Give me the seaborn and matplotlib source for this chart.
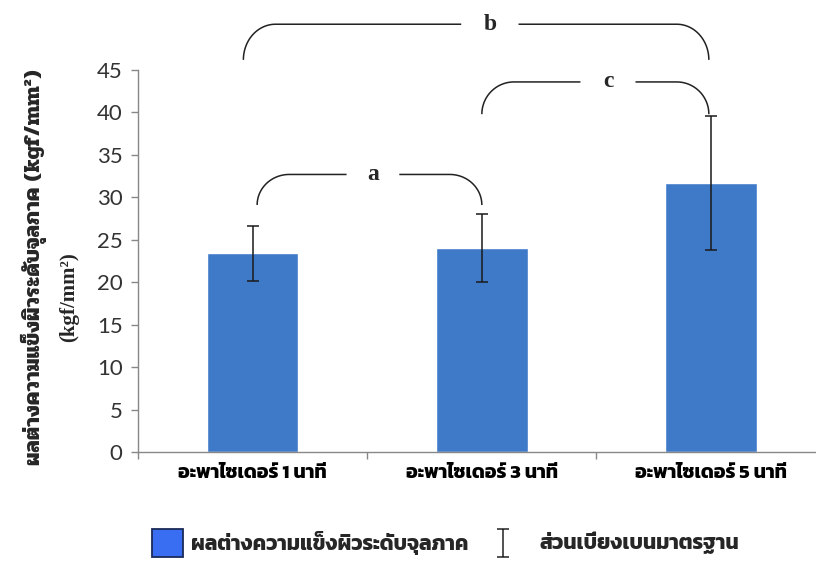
import matplotlib
matplotlib.use('Agg')
import matplotlib.pyplot as plt
import seaborn as sns
import numpy as np
import pandas as pd
from matplotlib.patches import Rectangle
from matplotlib.path import Path

# ---- data ----
categories = ['อะพาไซเดอร์ 1 นาที', 'อะพาไซเดอร์ 3 นาที', 'อะพาไซเดอร์ 5 นาที']
means = [23.4, 24.0, 31.7]
sds = [3.2, 4.0, 7.9]
yticks = [0, 5, 10, 15, 20, 25, 30, 35, 40, 45]
ylabel_line1 = 'ผลต่างความแข็งผิวระดับจุลภาค (kgf/mm²)'
ylabel_line2 = '(kgf/mm²)'
legend_bar = 'ผลต่างความแข็งผิวระดับจุลภาค'
legend_err = 'ส่วนเบี่ยงเบนมาตรฐาน'
# brackets: (left x, right x, low y, high y, label, gap start, gap end)
brackets = [
    (0.02, 1.0, 29.1, 32.7, 'a', 0.41, 0.64),
    (-0.04, 1.99, 46.2, 50.4, 'b', 0.91, 1.16),
    (1.0, 1.99, 39.8, 43.6, 'c', 1.43, 1.67),
]

sns.set_theme(style='white')
plt.rcParams['font.family'] = ['Lato', 'DejaVu Sans']

bar_color = '#3F7AC9'
thai_bold = ['Kanit', 'DejaVu Sans']
thai_loop = ['Pridi', 'Liberation Serif', 'DejaVu Serif']

df = pd.DataFrame({'cat': categories, 'mean': means, 'sd': sds})

fig = plt.figure(figsize=(8.16, 5.65), dpi=100)
ax = fig.add_axes([0.169, 0.2, 0.843, 0.676])
sns.barplot(data=df, x='cat', y='mean', color=bar_color, saturation=1,
            width=0.4, errorbar=None, ax=ax)
ax.errorbar(x=np.arange(len(categories)), y=df['mean'], yerr=df['sd'],
            fmt='none', ecolor='#1a1a1a', elinewidth=1.1, capsize=4.5,
            capthick=1.1)

ax.set_xlim(-0.5, 2.5)
ax.set_ylim(0, 45)
ax.set_yticks(yticks)
ax.set_yticklabels([str(v) for v in yticks], fontsize=16, color='#333333')
ax.set_xticks(range(len(categories)))
ax.set_xticklabels(categories, family=thai_bold, fontweight='bold',
                   fontsize=14, color='black')
ax.set_xticks([-0.5, 0.5, 1.5], minor=True)
ax.tick_params(axis='x', which='major', length=0, pad=9)
ax.tick_params(axis='x', which='minor', length=5, color='#888888', width=1,
               direction='out', bottom=True)
ax.tick_params(axis='y', length=5, color='#888888', width=1, direction='out',
               left=True, pad=6)
ax.set_xlabel('')
ax.set_ylabel('')
for s in ['top', 'right']:
    ax.spines[s].set_visible(False)
for s in ['left', 'bottom']:
    ax.spines[s].set_color('#888888')
    ax.spines[s].set_linewidth(1)

# y label (two lines)
fig.text(0.041, 1 - 267 / 565, ylabel_line1, rotation=90, ha='center',
         va='center', family=thai_loop, fontweight='bold', fontsize=16)
fig.text(0.085, 1 - 297 / 565, ylabel_line2, rotation=90, ha='center',
         va='center', family=['Liberation Serif'], fontweight='bold',
         fontsize=15)

# significance brackets
def bracket(x0, x1, y0, y1, lab, g0, g1):
    rx = 0.14
    t = np.linspace(0, np.pi / 2, 30)
    lx = x0 + rx - rx * np.cos(t)
    ly = y0 + (y1 - y0) * np.sin(t)
    rxs = x1 - rx + rx * np.cos(t)
    kw = dict(color='#222222', lw=1.1, clip_on=False, solid_capstyle='butt')
    ax.plot(np.r_[lx, g0], np.r_[ly, y1], **kw)
    ax.plot(np.r_[g1, rxs[::-1]], np.r_[y1, ly[::-1]], **kw)
    ax.text((g0 + g1) / 2, y1, lab, ha='center', va='center',
            family='Liberation Serif', fontweight='bold', fontsize=17,
            clip_on=False)

for b in brackets:
    bracket(*b)

# legend (drawn manually to match the reference layout)
W, H = 816, 565
fig.patches.append(Rectangle((152 / W, 1 - 557 / H), 31 / W, 28 / H,
                             transform=fig.transFigure, facecolor='#3A6EF2',
                             edgecolor='#1a2a5a', linewidth=1.3))
ly = 1 - 543 / H
fig.text(191 / W, ly, legend_bar, ha='left', va='center', family=thai_bold,
         fontweight='bold', fontsize=15)
ibeam = Path([(-0.45, 1), (0.45, 1), (0, 1), (0, -1), (-0.45, -1), (0.45, -1)],
             [Path.MOVETO, Path.LINETO, Path.MOVETO, Path.LINETO,
              Path.MOVETO, Path.LINETO])
fig.add_artist(plt.Line2D([503 / W], [ly], marker=ibeam, markersize=20,
                          markeredgewidth=1.1, color='#222222',
                          linestyle='none', transform=fig.transFigure))
fig.text(540 / W, ly, legend_err, ha='left', va='center', family=thai_bold,
         fontweight='bold', fontsize=15)

fig.savefig('out.png', dpi=100)
